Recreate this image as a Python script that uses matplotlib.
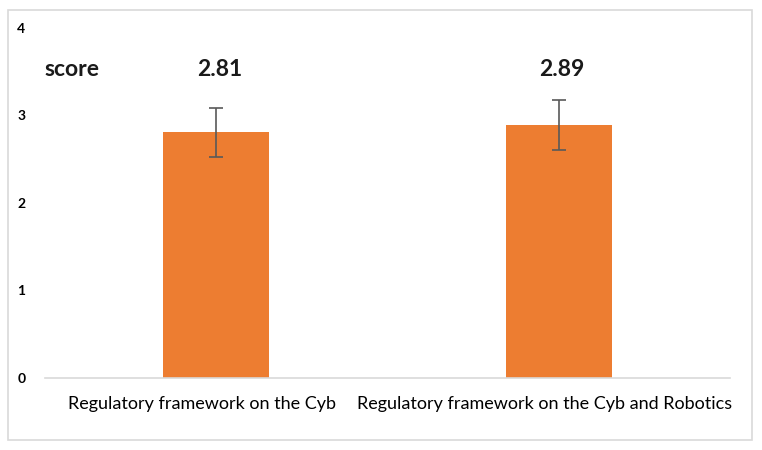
import matplotlib.pyplot as plt
from matplotlib.patches import Rectangle
from matplotlib.transforms import ScaledTranslation

categories = ["Regulatory framework on the Cyb", "Regulatory framework on the Cyb and Robotics"]
scores = [2.81, 2.89]
errors = [0.28, 0.29]
y_ticks = [0, 1, 2, 3, 4]

plt.rcParams["font.family"] = ["Lato", "DejaVu Sans"]

fig = plt.figure(figsize=(7.62, 4.5), dpi=100)
ax = fig.add_axes([0.059, 0.16, 0.899, 0.778])

x = list(range(len(categories)))
ax.bar(x, scores, width=0.31, color="#ED7D31", zorder=2)
ax.errorbar(x, scores, yerr=errors, fmt="none", ecolor="#595959",
            elinewidth=1.2, capsize=5, capthick=1.2, zorder=3)

for xi, s in zip(x, scores):
    ax.text(xi + 0.01, 3.52, f"{s:.2f}", ha="center", va="center",
            fontsize=16.5, fontweight="bold", color="#1a1a1a")

ax.text(-0.5, 3.52, "score", ha="left", va="center",
        fontsize=16.5, fontweight="bold", color="#1a1a1a")

ax.set_xlim(-0.5, 1.5)
ax.set_ylim(0, 4)
ax.set_yticks(y_ticks)
ax.set_yticklabels([str(t) for t in y_ticks], fontweight="bold", fontsize=10)
ax.set_xticks(x)
ax.set_xticklabels(categories, fontsize=13)
ax.tick_params(axis="y", length=0, pad=14)
ax.tick_params(axis="x", length=0, pad=13)

# category labels sit a little left of the bars in the original
shift = ScaledTranslation(-14 / 100, 0, fig.dpi_scale_trans)
for lbl in ax.get_xticklabels():
    lbl.set_transform(lbl.get_transform() + shift)

for side in ["top", "right", "left"]:
    ax.spines[side].set_visible(False)
ax.spines["bottom"].set_color("#d9d9d9")
ax.spines["bottom"].set_linewidth(1.2)

# light frame round the whole chart
fig.patches.append(Rectangle((8 / 762, 10 / 450), 744 / 762, 430 / 450,
                             transform=fig.transFigure, fill=False,
                             edgecolor="#d9d9d9", linewidth=1.2))

plt.savefig("out.png", dpi=100)
plt.close()
